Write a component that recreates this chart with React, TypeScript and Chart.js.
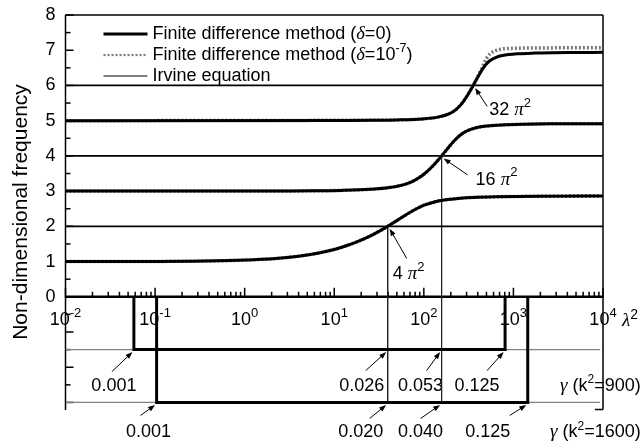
import React, { useEffect, useRef } from "react";
import { Chart, registerables } from "chart.js";
Chart.register(...registerables);

// ---- Data ----
// Symmetric modes: Irvine equation / finite difference (delta = 0)
const mode1Lambda2 = [0.01, 0.1, 0.245, 0.49, 1.25, 2.57, 5.4, 8.5, 11.9, 15.6, 19.6, 24, 28.7, 33.8, 39.5, 45.7, 52.7, 60.8, 70.4, 82.8, 100.6, 134, 169, 258, 351, 627, 1151, 2062, 10000];
const mode1Freq = [1.0, 1.004, 1.01, 1.02, 1.05, 1.1, 1.2, 1.3, 1.4, 1.5, 1.6, 1.7, 1.8, 1.9, 2.0, 2.1, 2.2, 2.3, 2.4, 2.5, 2.6, 2.7, 2.75, 2.8, 2.82, 2.84, 2.85, 2.855, 2.86];

const mode2Lambda2 = [0.01, 1, 3.1, 6.18, 11.7, 25.1, 41.3, 62.7, 78, 90.7, 102.3, 113.4, 124.2, 135.2, 146.3, 157.9, 170.1, 183.1, 197.4, 213.5, 232.8, 258, 297, 384, 512, 743, 1319, 2687, 6800, 10000];
const mode2Freq = [3.0, 3.002, 3.005, 3.01, 3.02, 3.05, 3.1, 3.2, 3.3, 3.4, 3.5, 3.6, 3.7, 3.8, 3.9, 4.0, 4.1, 4.2, 4.3, 4.4, 4.5, 4.6, 4.7, 4.8, 4.85, 4.88, 4.9, 4.91, 4.915, 4.916];

const mode3Lambda2 = [0.01, 13.7, 27.3, 49.4, 96.7, 143.6, 193.8, 224.3, 247.6, 267.6, 285.9, 303.4, 320.6, 337.8, 355.3, 373.4, 392.5, 413, 435.7, 462.3, 495.7, 544.5, 641, 756, 1126, 1741, 2796, 4570, 10000];
const mode3Freq = [5.0, 5.005, 5.01, 5.02, 5.05, 5.1, 5.2, 5.3, 5.4, 5.5, 5.6, 5.7, 5.8, 5.9, 6.0, 6.1, 6.2, 6.3, 6.4, 6.5, 6.6, 6.7, 6.8, 6.85, 6.9, 6.92, 6.93, 6.935, 6.939];

// Finite difference (delta = 1e-7), third mode departs at large lambda^2
const mode3DeltaLambda2 = [0.01, 49.4, 96.7, 143.6, 193.8, 224.3, 247.6, 267.6, 285.9, 303.4, 320.6, 337.8, 355.3, 373.4, 392.5, 413, 440, 470, 505, 550, 620, 720, 900, 1300, 10000];
const mode3DeltaFreq = [5.0, 5.02, 5.05, 5.1, 5.2, 5.3, 5.4, 5.5, 5.6, 5.7, 5.8, 5.9, 6.0, 6.1, 6.2, 6.32, 6.47, 6.63, 6.78, 6.9, 6.98, 7.03, 7.05, 7.06, 7.07];

// Antisymmetric modes (Irvine): constant
const antiFreq = [2, 4, 6];

// Crossover points
const crossLambda2 = [39.48, 157.9, 355.3];
const crossFreq = [2, 4, 6];
const crossLabels = ["4", "16", "32"];

// gamma scales
const gammaRowLevel = [-1.5, -3];
const gamma900Labels = ["0.001", "0.026", "0.053", "0.125"];
const gamma900Lambda2 = [0.058, 39.48, 157.9, 807];
const gamma1600Labels = ["0.001", "0.020", "0.040", "0.125"];
const gamma1600Lambda2 = [0.104, 39.48, 157.9, 1445];

const xTickExponents = [-2, -1, 0, 1, 2, 3, 4];
const yTickLabels = [0, 1, 2, 3, 4, 5, 6, 7, 8];

// ---- helpers ----
const SANS = '"Liberation Sans", Arial, sans-serif';
const SERIF = '"Liberation Serif", "Times New Roman", serif';
const pts = (xs: number[], ys: number[]) => xs.map((x, i) => ({ x, y: ys[i] }));

type Part = { t: string; f: string; dy?: number };
function drawRich(ctx: CanvasRenderingContext2D, parts: Part[], x: number, y: number, align: "left" | "center" | "right") {
  let w = 0;
  for (const p of parts) { ctx.font = p.f; w += ctx.measureText(p.t).width; }
  let cx = align === "left" ? x : align === "center" ? x - w / 2 : x - w;
  ctx.textAlign = "left";
  ctx.textBaseline = "middle";
  for (const p of parts) {
    ctx.font = p.f;
    ctx.fillText(p.t, cx, y + (p.dy || 0));
    cx += ctx.measureText(p.t).width;
  }
}
function arrow(ctx: CanvasRenderingContext2D, x0: number, y0: number, x1: number, y1: number) {
  const a = Math.atan2(y1 - y0, x1 - x0);
  const L = 7, W = 2.6;
  ctx.beginPath();
  ctx.moveTo(x0, y0);
  ctx.lineTo(x1 - L * 0.6 * Math.cos(a), y1 - L * 0.6 * Math.sin(a));
  ctx.stroke();
  ctx.beginPath();
  ctx.moveTo(x1, y1);
  ctx.lineTo(x1 - L * Math.cos(a) + W * Math.sin(a), y1 - L * Math.sin(a) - W * Math.cos(a));
  ctx.lineTo(x1 - L * Math.cos(a) - W * Math.sin(a), y1 - L * Math.sin(a) + W * Math.cos(a));
  ctx.closePath();
  ctx.fill();
}
function line(ctx: CanvasRenderingContext2D, x0: number, y0: number, x1: number, y1: number) {
  ctx.beginPath(); ctx.moveTo(x0, y0); ctx.lineTo(x1, y1); ctx.stroke();
}

// annotation layout (pixel offsets from the arrow tip)
const row900Layout = [
  { tdx: -20, sx: -22, sy: 22 },
  { tdx: -26, sx: -22, sy: 21 },
  { tdx: -21, sx: -15, sy: 21 },
  { tdx: -28, sx: -18, sy: 21 },
];
const row1600Layout = [
  { tdx: -8, sx: -16, sy: 13 },
  { tdx: -27, sx: -18, sy: 16 },
  { tdx: -21, sx: -21, sy: 16 },
  { tdx: -40, sx: -18, sy: 13 },
];
const crossLayout = [
  { sx: 19, sy: 32, tx: 5, ty: 48 },
  { sx: 26, sy: 19, tx: 34, ty: 24 },
  { sx: 14, sy: 21, tx: 16, ty: 25 },
];

const decor = {
  id: "decor",
  beforeDatasetsDraw(chart: any) {
    const ctx: CanvasRenderingContext2D = chart.ctx;
    const xs = chart.scales.x, ys = chart.scales.y;
    const X = (v: number) => xs.getPixelForValue(v);
    const Y = (v: number) => ys.getPixelForValue(v);
    const L = X(0.01), R = X(10000), T = Y(8), B = Y(-3.2), Y0 = Y(0);
    ctx.save();
    ctx.fillStyle = "#000";
    ctx.strokeStyle = "#000";

    // y tick labels
    for (const v of yTickLabels) {
      drawRich(ctx, [{ t: String(v), f: `18px ${SANS}` }], L - 10, Y(v), "right");
    }
    // x tick labels
    for (const e of xTickExponents) {
      drawRich(ctx, [
        { t: "10", f: `18px ${SANS}` },
        { t: e < 0 ? "-" + Math.abs(e) : String(e), f: `13px ${SANS}`, dy: -6 },
      ], X(Math.pow(10, e)), Y0 + 23, "center");
    }
    // lambda^2 axis label
    drawRich(ctx, [
      { t: "\u03BB", f: `italic 19px ${SERIF}` },
      { t: "2", f: `14px ${SANS}`, dy: -6 },
    ], R + 19, Y0 + 24, "left");

    // y title
    ctx.save();
    ctx.translate(21, 212);
    ctx.rotate(-Math.PI / 2);
    ctx.font = `21px ${SANS}`;
    ctx.textAlign = "center";
    ctx.textBaseline = "middle";
    ctx.fillText("Non-dimensional frequency", 0, 0);
    ctx.restore();

    // legend
    const lx0 = L + 38, lx1 = L + 82, ltx = L + 87;
    const ly = [T + 19, T + 40, T + 61];
    ctx.lineWidth = 3; line(ctx, lx0, ly[0], lx1, ly[0]);
    ctx.save();
    ctx.strokeStyle = "#777"; ctx.lineWidth = 2.2; ctx.setLineDash([2, 2]);
    line(ctx, lx0, ly[1], lx1, ly[1]);
    ctx.restore();
    ctx.lineWidth = 1.2; line(ctx, lx0, ly[2], lx1, ly[2]);
    const lf = `18px ${SANS}`, lfi = `italic 18.5px ${SERIF}`;
    drawRich(ctx, [{ t: "Finite difference method (", f: lf }, { t: "\u03B4", f: lfi }, { t: "=0)", f: lf }], ltx, ly[0], "left");
    drawRich(ctx, [{ t: "Finite difference method (", f: lf }, { t: "\u03B4", f: lfi }, { t: "=10", f: lf }, { t: "-7", f: `12.5px ${SANS}`, dy: -6 }, { t: ")", f: lf }], ltx, ly[1], "left");
    drawRich(ctx, [{ t: "Irvine equation", f: lf }], ltx, ly[2], "left");

    // crossover annotations
    ctx.lineWidth = 1;
    crossLambda2.forEach((lam, i) => {
      const tx = X(lam), ty = Y(crossFreq[i]);
      const c = crossLayout[i];
      arrow(ctx, tx + c.sx, ty + c.sy, tx + 2, ty + 2.5);
      drawRich(ctx, [
        { t: crossLabels[i] + " ", f: `18px ${SANS}` },
        { t: "\u03C0", f: `italic 19px ${SERIF}` },
        { t: "2", f: `13px ${SANS}`, dy: -7 },
      ], tx + c.tx, ty + c.ty, "left");
    });

    // gamma annotations
    const rows = [
      { labels: gamma900Labels, lam: gamma900Lambda2, lay: row900Layout, level: gammaRowLevel[0], tdy: 36 },
      { labels: gamma1600Labels, lam: gamma1600Lambda2, lay: row1600Layout, level: gammaRowLevel[1], tdy: 30 },
    ];
    for (const r of rows) {
      const ty = Y(r.level);
      r.labels.forEach((lab, i) => {
        const tx = X(r.lam[i]);
        const c = r.lay[i];
        arrow(ctx, tx + c.sx, ty + c.sy, tx - 1.5, ty + 2.5);
        drawRich(ctx, [{ t: lab, f: `18px ${SANS}` }], tx + c.tdx, ty + r.tdy, "center");
      });
    }
    drawRich(ctx, [
      { t: "\u03B3", f: `italic 19px ${SERIF}` },
      { t: " (k", f: `18px ${SANS}` },
      { t: "2", f: `12px ${SANS}`, dy: -6 },
      { t: "=900)", f: `18px ${SANS}` },
    ], 560, Y(gammaRowLevel[0]) + 36, "left");
    drawRich(ctx, [
      { t: "\u03B3", f: `italic 19px ${SERIF}` },
      { t: " (k", f: `18px ${SANS}` },
      { t: "2", f: `12px ${SANS}`, dy: -6 },
      { t: "=1600)", f: `18px ${SANS}` },
    ], 550, Y(gammaRowLevel[1]) + 30, "left");

    // frame
    ctx.lineWidth = 1.5;
    line(ctx, L, T, R, T);
    line(ctx, R, T, R, B);
    line(ctx, L, T, L, B + 0.5);
    line(ctx, R - 8, B, R, B);
    // y ticks (inward)
    for (let v = -3; v <= 8; v += 0.5) {
      const len = Number.isInteger(v) ? 8 : 5;
      line(ctx, L, Y(v), L + len, Y(v));
    }
    // x axis at 0
    ctx.lineWidth = 2.5;
    line(ctx, L, Y0, R, Y0);
    ctx.lineWidth = 1.5;
    for (const e of xTickExponents) {
      const d = Math.pow(10, e);
      line(ctx, X(d), Y0 + 1, X(d), Y0 - 9);
      if (e < 4) {
        for (let m = 2; m <= 9; m++) line(ctx, X(d * m), Y0 + 1, X(d * m), Y0 - 5);
      }
    }
    ctx.restore();
  },
};

const black = "#000";
const curveDs = (data: any[], width: number, color: string, order: number, dash: number[] = []) => ({
  data,
  borderColor: color,
  borderWidth: width,
  borderDash: dash,
  pointRadius: 0,
  fill: false,
  cubicInterpolationMode: "monotone" as const,
  order,
});
const straightDs = (data: any[], width: number, color: string, order: number) => ({
  data,
  borderColor: color,
  borderWidth: width,
  pointRadius: 0,
  fill: false,
  tension: 0,
  order,
});

export default function App() {
  const ref = useRef<HTMLCanvasElement>(null);
  useEffect(() => {
    const canvas = ref.current!;
    const datasets: any[] = [
      // brackets for gamma scales
      straightDs(pts([gamma900Lambda2[0], gamma900Lambda2[0], gamma900Lambda2[3], gamma900Lambda2[3]], [0, gammaRowLevel[0], gammaRowLevel[0], 0]), 3, black, 0),
      straightDs(pts([gamma1600Lambda2[0], gamma1600Lambda2[0], gamma1600Lambda2[3], gamma1600Lambda2[3]], [0, gammaRowLevel[1], gammaRowLevel[1], 0]), 3, black, 0),
      // Finite difference delta = 0
      curveDs(pts(mode1Lambda2, mode1Freq), 3, black, 1),
      curveDs(pts(mode2Lambda2, mode2Freq), 3, black, 1),
      curveDs(pts(mode3Lambda2, mode3Freq), 3, black, 1),
      // Irvine equation (thin)
      curveDs(pts(mode1Lambda2, mode1Freq), 1, black, 2),
      curveDs(pts(mode2Lambda2, mode2Freq), 1, black, 2),
      curveDs(pts(mode3Lambda2, mode3Freq), 1, black, 2),
      // Finite difference delta = 1e-7 (dotted grey)
      curveDs(pts(mode1Lambda2, mode1Freq), 3.5, "#7a7a7a", 3, [2, 2]),
      curveDs(pts(mode2Lambda2, mode2Freq), 3.5, "#7a7a7a", 3, [2, 2]),
      curveDs(pts(mode3DeltaLambda2, mode3DeltaFreq), 3.5, "#7a7a7a", 3, [2, 2]),
      // Irvine antisymmetric modes
      ...antiFreq.map((f) => straightDs(pts([0.01, 10000], [f, f]), 1.8, black, 4)),
      // gamma guide lines
      ...gammaRowLevel.map((lv) => straightDs(pts([0.01, 9300], [lv, lv]), 1.2, "#808080", 5)),
      // crossover verticals
      straightDs(pts([crossLambda2[0], crossLambda2[0]], [crossFreq[0], gammaRowLevel[1]]), 1, "#222", 5),
      straightDs(pts([crossLambda2[1], crossLambda2[1]], [crossFreq[1], gammaRowLevel[1]]), 1, "#222", 5),
    ];
    const chart = new Chart(canvas, {
      type: "line",
      data: { datasets },
      options: {
        responsive: false,
        animation: false,
        devicePixelRatio: 1,
        layout: { padding: { left: 65.5, right: 41, top: 15, bottom: 34.5 } },
        plugins: { legend: { display: false }, tooltip: { enabled: false } },
        scales: {
          x: { type: "logarithmic", min: 0.01, max: 10000, display: false },
          y: { type: "linear", min: -3.2, max: 8, display: false },
        },
      },
      plugins: [decor],
    } as any);
    return () => chart.destroy();
  }, []);
  return (
    <div style={{ position: "absolute", left: 0, top: 0, width: 644, height: 444, background: "#fff" }}>
      <canvas ref={ref} width={644} height={444} style={{ display: "block" }} />
    </div>
  );
}
